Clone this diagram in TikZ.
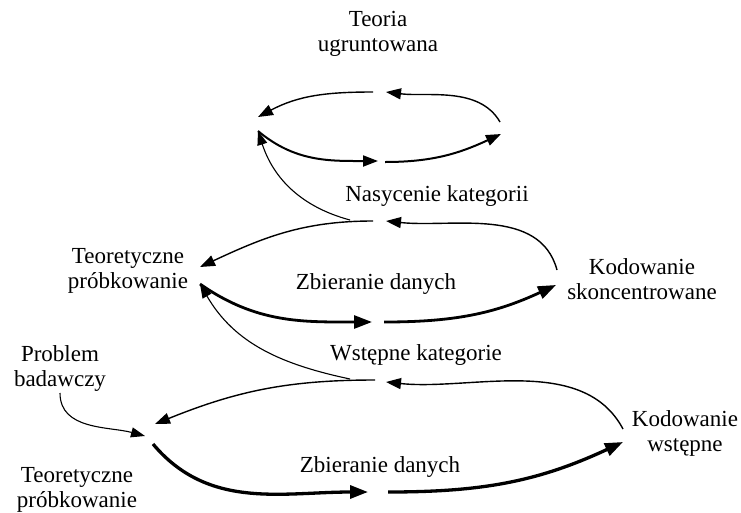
\documentclass[tikz,border=0pt]{standalone}
\usepackage{fontspec}
\setmainfont{Liberation Serif}
\usetikzlibrary{arrows.meta}
\begin{document}
\begin{tikzpicture}[x=1pt,y=-1pt,
  lbl/.style={align=center, font=\fontsize{23}{25}\selectfont, inner sep=0pt},
  backarc/.style={line width=1.4pt, -{Triangle[length=15pt,width=11pt]}},
  frontarc/.style={line width=2.8pt, -{Triangle[length=18pt,width=13pt]}},
  feed/.style={line width=1.1pt, -{Triangle[length=14pt,width=10pt]}}]
\useasboundingbox (0,0) rectangle (741,512);
% labels
\node[lbl] (teoria) at (378,34) {Teoria\\ugruntowana};
\node[lbl] (nasyc) at (437,196) {Nasycenie kategorii};
\node[lbl] (tp1) at (128,271) {Teoretyczne\\próbkowanie};
\node[lbl] (zd1) at (376,284) {Zbieranie danych};
\node[lbl] (kods) at (642,279) {Kodowanie\\skoncentrowane};
\node[lbl] (wstk) at (416,355) {Wstępne kategorie};
\node[lbl] (probl) at (60,368) {Problem\\badawczy};
\node[lbl] (tp0) at (77,490) {Teoretyczne\\próbkowanie};
\node[lbl] (zd0) at (380,467) {Zbieranie danych};
\node[lbl] (kodw) at (685,433) {Kodowanie\\wstępne};
% top loop
\coordinate (t0) at (373,92);
\coordinate (t1) at (258,117);
\coordinate (t2) at (500,122);
\coordinate (t3) at (386,92);
\coordinate (t4) at (258,131);
\coordinate (t5) at (378,161);
\coordinate (t6) at (385,162);
\coordinate (t7) at (501,134);
\draw[backarc] (t0) to[out=180,in=28] (t1);
\draw[backarc] (t2) to[out=120,in=-7,looseness=0.9] (t3);
\draw[backarc, line width=2pt] (t4) to[out=-40,in=180] (t5);
\draw[backarc, line width=2pt] (t6) to[out=0,in=205] (t7);
% middle loop
\coordinate (m0) at (373,221);
\coordinate (m1) at (200,267);
\coordinate (m2) at (557,270);
\coordinate (m3) at (386,221);
\coordinate (m4) at (200,284);
\coordinate (m5) at (372,322);
\coordinate (m6) at (384,322);
\coordinate (m7) at (556,285);
\coordinate (m8) at (350,220);
\draw[backarc] (m0) to[out=180,in=25] (m1);
\draw[backarc] (m2) to[out=105,in=-6,looseness=0.95] (m3);
\draw[frontarc] (m4) to[out=-35,in=180] (m5);
\draw[frontarc] (m6) to[out=0,in=205] (m7);
\draw[feed] (m8) to[out=165,in=-72] (t4);
% bottom loop
\coordinate (b0) at (375,380);
\coordinate (b1) at (155,424);
\coordinate (b2) at (623,429);
\coordinate (b3) at (386,382);
\coordinate (b4) at (153,444);
\coordinate (b5) at (368,492);
\coordinate (b6) at (388,492);
\coordinate (b7) at (623,442);
\coordinate (b8) at (350,379);
\coordinate (p0) at (60,393);
\coordinate (p1) at (145,436);
\draw[backarc] (b0) to[out=180,in=22] (b1);
\draw[backarc] (b2) to[out=118,in=-6,looseness=0.9] (b3);
\draw[frontarc, line width=3.3pt] (b4) to[out=-50,in=180] (b5);
\draw[frontarc, line width=3.3pt] (b6) to[out=0,in=205] (b7);
\draw[feed] (b8) to[out=168,in=-60] (m4);
\draw[feed] (p0) to[out=-90,in=165] (p1);
\end{tikzpicture}
\end{document}
